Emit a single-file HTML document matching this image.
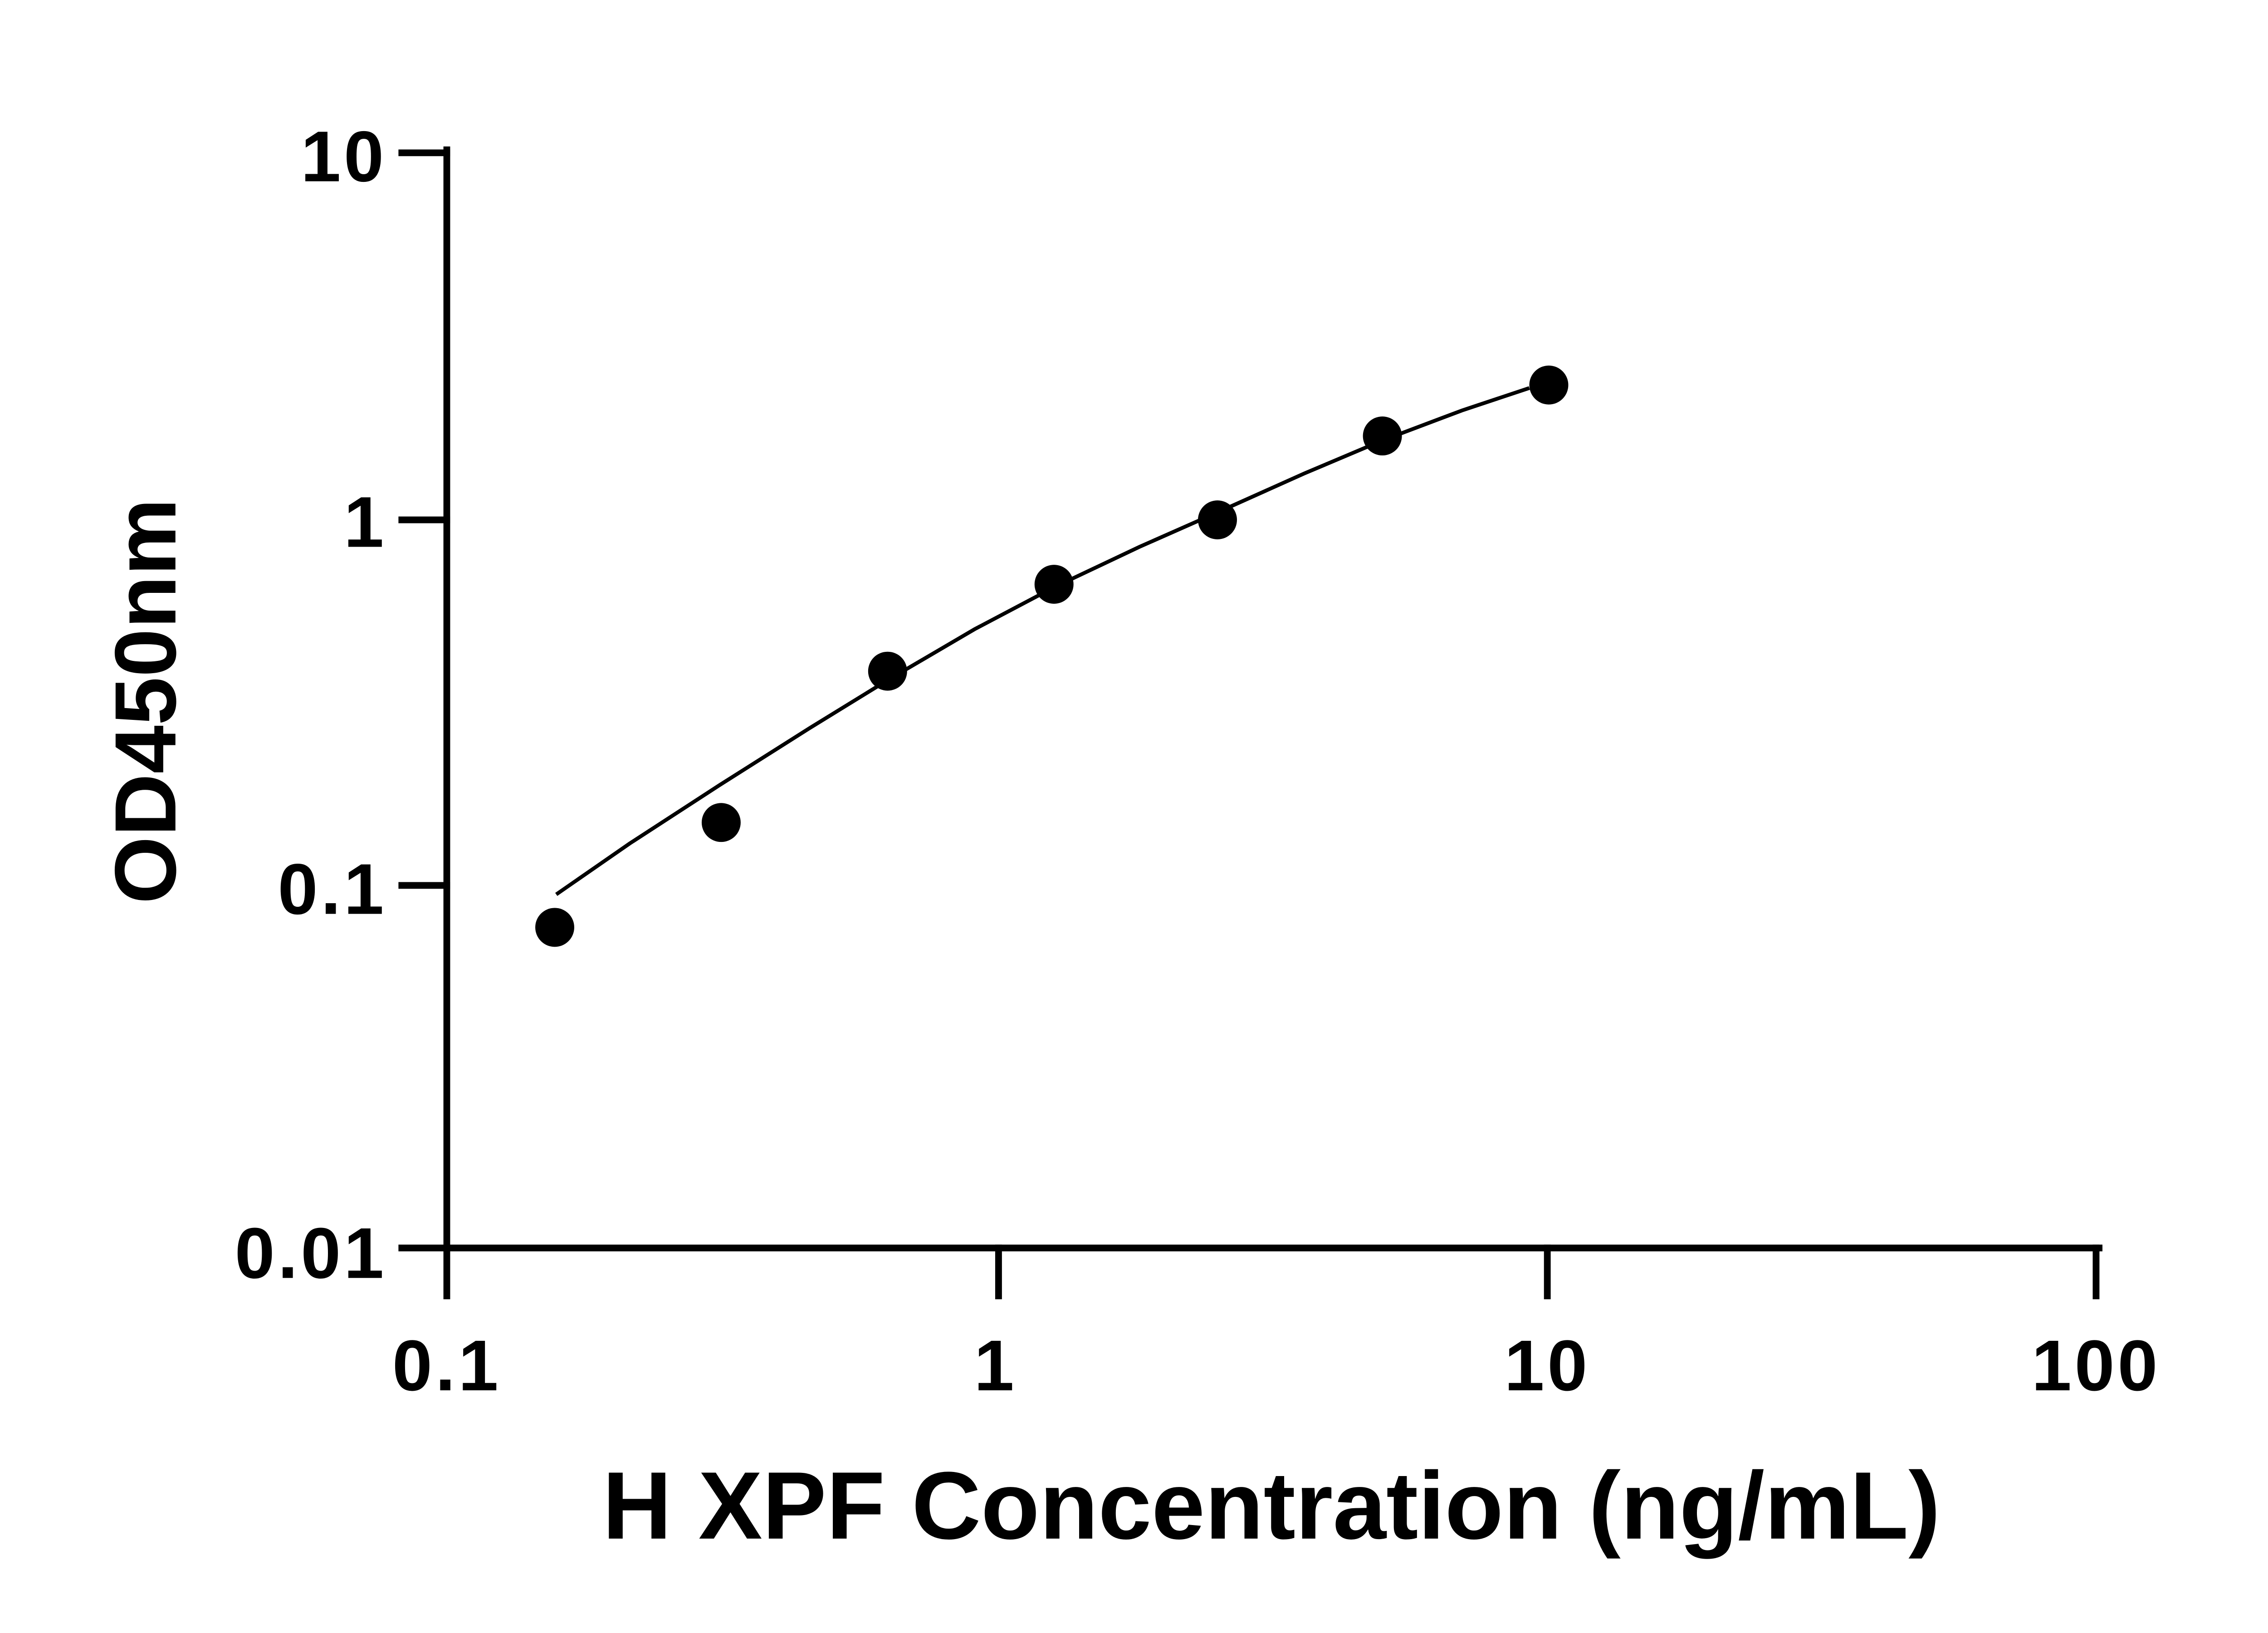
<!DOCTYPE html>
<html><head><meta charset="utf-8"><style>
html,body{margin:0;padding:0;background:#fff;}
svg{display:block;}
text{font-family:"Liberation Sans",Arial,sans-serif;font-weight:bold;fill:#000;}
</style></head><body>
<svg width="5130" height="3600" viewBox="0 0 1552 1090" preserveAspectRatio="none" xmlns="http://www.w3.org/2000/svg">
<rect width="1552" height="1090" fill="#fff"/>
<g stroke="#000" stroke-width="4.5" fill="none" stroke-linecap="square">
<line x1="298" y1="100" x2="298" y2="865"/>
<line x1="298" y1="833" x2="1400" y2="833"/>
<line x1="268" y1="102" x2="298" y2="102"/>
<line x1="268" y1="347" x2="298" y2="347"/>
<line x1="268" y1="591" x2="298" y2="591"/>
<line x1="268" y1="833" x2="298" y2="833"/>
<line x1="666" y1="833" x2="666" y2="865"/>
<line x1="1032" y1="833" x2="1032" y2="865"/>
<line x1="1398" y1="833" x2="1398" y2="865"/>
</g>
<polyline fill="none" stroke="#000" stroke-width="2.5" points="371,597 420,563 480,524 540,486 592,454 650,420 703,392 760,365 812,342 870,316 922,294 975,274 1020,259"/>
<g fill="#000">
<circle cx="370" cy="619" r="13"/>
<circle cx="481" cy="549" r="13"/>
<circle cx="592" cy="448" r="13"/>
<circle cx="703" cy="390" r="13"/>
<circle cx="812" cy="347" r="13"/>
<circle cx="922" cy="291" r="13"/>
<circle cx="1033" cy="257" r="13"/>
</g>
<g font-size="48" text-anchor="end" letter-spacing="2">
<text x="258" y="121">10</text>
<text x="258" y="365">1</text>
<text x="258" y="610">0.1</text>
<text x="258" y="853">0.01</text>
</g>
<g font-size="48" text-anchor="middle" letter-spacing="2">
<text x="298" y="928">0.1</text>
<text x="664" y="928">1</text>
<text x="1032" y="928">10</text>
<text x="1398" y="928">100</text>
</g>
<text x="848" y="1027" font-size="64" text-anchor="middle">H XPF Concentration (ng/mL)</text>
<text transform="translate(117,468) rotate(-90)" font-size="58" text-anchor="middle">OD450nm</text>
</svg>
</body></html>
